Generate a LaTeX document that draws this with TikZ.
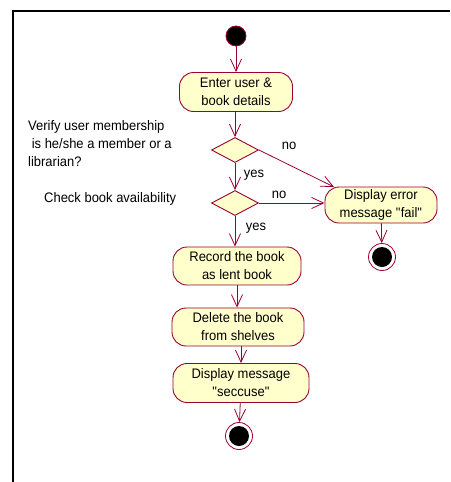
\documentclass[tikz,border=0pt]{standalone}
\usepackage{fontspec}
\setmainfont{Liberation Sans}[FakeStretch=0.94]
\usetikzlibrary{arrows.meta,shapes.geometric}
\definecolor{rose}{RGB}{153,0,51}
\definecolor{pale}{RGB}{255,255,204}
\tikzset{
  act/.style={draw=rose,fill=pale,rounded corners=14pt,line width=0.9pt,align=center,inner sep=1pt,font=\fontsize{13.8}{18}\selectfont},
  dec/.style={draw=rose,fill=pale,diamond,aspect=1.85,minimum width=47pt,minimum height=25pt,inner sep=0pt,line width=0.9pt},
  startnode/.style={circle,fill=black,draw=rose,line width=0.8pt,minimum size=20pt,inner sep=0pt},
  endnode/.style={circle,draw=rose,fill=white,line width=0.8pt,minimum size=27pt,inner sep=0pt,
    path picture={\fill[black] (path picture bounding box.center) circle (10pt);}},
  flow/.style={draw=rose,line width=0.8pt,-{Straight Barb[length=12pt,width=11pt,line width=0.8pt]}},
  lbl/.style={font=\fontsize{13.8}{18}\selectfont,inner sep=0pt}
}
\begin{document}
\begin{tikzpicture}[x=1pt,y=-1pt]
\useasboundingbox (0,0) rectangle (450,482);
\draw[line width=2pt] (450,11) -- (13,11) -- (13,482);
\node[startnode] (s) at (236,36) {};
\node[act,minimum width=113pt,minimum height=39pt] (enter) at (236,92) {Enter user \&\\book details};
\node[dec] (d1) at (235,150) {};
\node[dec] (d2) at (235,203) {};
\node[act,minimum width=112pt,minimum height=36pt] (err) at (381,205) {Display error\\message \textquotedbl fail\textquotedbl};
\coordinate (errin) at (334,187);
\node[endnode] (e1) at (382,257) {};
\node[act,minimum width=128pt,minimum height=38pt] (rec) at (237,266) {Record the book\\as lent book};
\node[act,minimum width=132pt,minimum height=38pt] (del) at (238,327) {Delete the book\\from shelves};
\node[act,minimum width=136pt,minimum height=39pt] (disp) at (241,383) {Display message\\\textquotedbl seccuse\textquotedbl};
\node[endnode] (e2) at (239,436) {};
\node[lbl,align=left,anchor=north west] (v) at (28,120) {Verify user membership\\\ is he/she a member or a\\librarian?};
\node[lbl,anchor=west] (c) at (44,199) {Check book availability};
\node[lbl] (no1) at (289,146) {no};
\node[lbl] (no2) at (279,195) {no};
\node[lbl] (y1) at (254,175) {yes};
\node[lbl] (y2) at (256,228) {yes};
\draw[flow] (s) -- (enter);
\draw[flow] (enter.south -| d1.north) -- (d1.north);
\draw[flow] (d1.east) -- (errin);
\draw[flow] (d1.south) -- (d2.north);
\draw[flow] (d2.east) -- (d2.east -| err.west);
\draw[flow] (d2.south) -- (d2.south |- rec.north);
\draw[flow] (rec) -- (rec |- del.north);
\draw[flow] (del) -- (del.south -| disp.north) -- (disp.north);
\draw[flow] (disp) -- (e2);
\draw[flow] (err) -- (e1);
\end{tikzpicture}
\end{document}
